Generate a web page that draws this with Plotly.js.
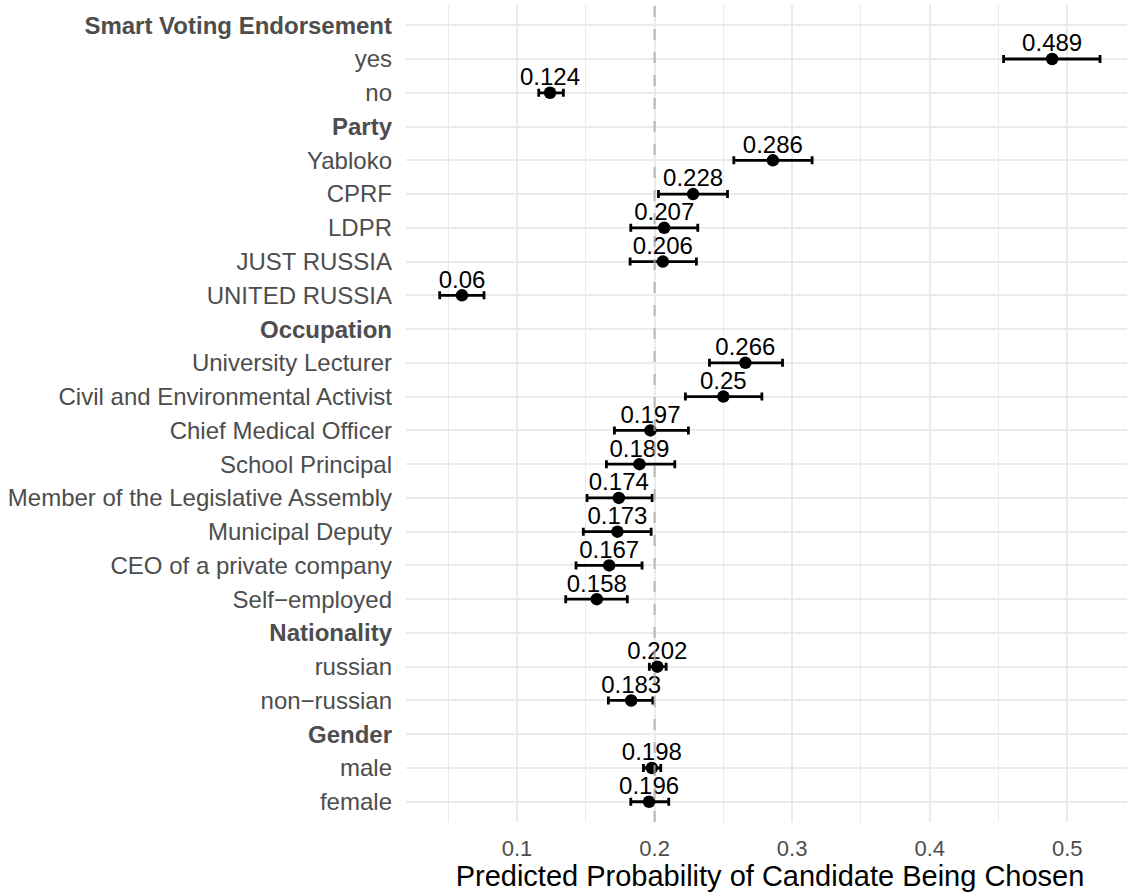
<!DOCTYPE html>
<html>
<head>
<meta charset="utf-8">
<script src="https://cdn.plot.ly/plotly-3.0.1.min.js"></script>
<style>
  html, body { margin: 0; padding: 0; background: #ffffff; overflow: hidden; }
  #chart { width: 1140px; height: 892px; }
</style>
</head>
<body>
<div id="chart"></div>
<script>
// Row order of the y axis, top to bottom (attribute headers plus their levels)
const categories = [
  "Smart Voting Endorsement", "yes", "no",
  "Party", "Yabloko", "CPRF", "LDPR", "JUST RUSSIA", "UNITED RUSSIA",
  "Occupation", "University Lecturer", "Civil and Environmental Activist",
  "Chief Medical Officer", "School Principal", "Member of the Legislative Assembly",
  "Municipal Deputy", "CEO of a private company", "Self\u2212employed",
  "Nationality", "russian", "non\u2212russian",
  "Gender", "male", "female"
];

// Attribute names shown in bold
const headerRows = ["Smart Voting Endorsement", "Party", "Occupation", "Nationality", "Gender"];

// Attribute levels that carry an estimate
const levels = [
  "yes", "no",
  "Yabloko", "CPRF", "LDPR", "JUST RUSSIA", "UNITED RUSSIA",
  "University Lecturer", "Civil and Environmental Activist", "Chief Medical Officer",
  "School Principal", "Member of the Legislative Assembly", "Municipal Deputy",
  "CEO of a private company", "Self\u2212employed",
  "russian", "non\u2212russian",
  "male", "female"
];

// Predicted probability of the candidate being chosen
const estimates = [
  0.489, 0.124,
  0.286, 0.228, 0.207, 0.206, 0.06,
  0.266, 0.25, 0.197, 0.189, 0.174, 0.173, 0.167, 0.158,
  0.202, 0.183,
  0.198, 0.196
];

// 95% interval bounds
const ciLow = [
  0.4537, 0.1158,
  0.2576, 0.2028, 0.1827, 0.1822, 0.0438,
  0.2399, 0.2224, 0.1708, 0.1650, 0.1509, 0.1482, 0.1429, 0.1354,
  0.1962, 0.1664,
  0.1919, 0.1827
];
const ciHigh = [
  0.5238, 0.1337,
  0.3145, 0.2530, 0.2314, 0.2304, 0.0760,
  0.2930, 0.2780, 0.2246, 0.2147, 0.1982, 0.1975, 0.1909, 0.1802,
  0.2084, 0.1987,
  0.2045, 0.2103
];

// Reference probability marked by the dashed line
const baseline = 0.2;

const FONT = "Liberation Sans, Arial, Helvetica, sans-serif";

const tickText = categories.map(c => headerRows.includes(c) ? "<b>" + c + "</b>" : c);

const points = {
  type: "scatter",
  mode: "markers",
  x: estimates,
  y: levels,
  marker: { color: "#000000", size: 12.5, line: { width: 0 } },
  error_x: {
    type: "data",
    symmetric: false,
    array: estimates.map((v, i) => ciHigh[i] - v),
    arrayminus: estimates.map((v, i) => v - ciLow[i]),
    color: "#000000",
    thickness: 2.8,
    width: 4
  },
  hoverinfo: "x+y",
  showlegend: false
};

// Value labels sitting above each point
const labels = {
  type: "scatter",
  mode: "markers+text",
  x: estimates,
  y: levels,
  text: estimates.map(v => String(v)),
  textposition: "top center",
  textfont: { family: FONT, size: 24, color: "#000000" },
  marker: { size: 1, opacity: 0 },
  hoverinfo: "skip",
  showlegend: false
};

const layout = {
  width: 1140,
  height: 892,
  margin: { l: 406, r: 6, t: 5, b: 70, pad: 0 },
  paper_bgcolor: "#ffffff",
  plot_bgcolor: "#ffffff",
  font: { family: FONT, color: "#4d4d4d" },
  xaxis: {
    range: [0.0193, 0.5485],
    tickvals: [0.1, 0.2, 0.3, 0.4, 0.5],
    ticktext: ["0.1", "0.2", "0.3", "0.4", "0.5"],
    tickfont: { family: FONT, size: 22, color: "#4d4d4d" },
    ticks: "",
    ticklabelstandoff: 11,
    showgrid: true,
    gridcolor: "#ebebeb",
    gridwidth: 2,
    minor: { tickvals: [0.05, 0.15, 0.25, 0.35, 0.45], showgrid: true, gridcolor: "#ebebeb", gridwidth: 1 },
    zeroline: false,
    showline: false,
    title: {
      text: "Predicted Probability of Candidate Being Chosen",
      font: { family: FONT, size: 29, color: "#000000" },
      standoff: 7
    }
  },
  yaxis: {
    type: "category",
    categoryorder: "array",
    categoryarray: categories,
    range: [categories.length - 0.4, -0.6],
    tickvals: categories,
    ticktext: tickText,
    tickfont: { family: FONT, size: 24, color: "#4d4d4d" },
    ticks: "",
    ticklabelstandoff: 13,
    showgrid: true,
    gridcolor: "#ebebeb",
    gridwidth: 2,
    zeroline: false,
    showline: false
  },
  shapes: [{
    type: "line",
    layer: "above",
    xref: "x", yref: "paper",
    x0: baseline, x1: baseline, y0: 0, y1: 1,
    line: { color: "rgba(170,170,170,0.75)", width: 2.2, dash: "11px,12px" }
  }]
};

Plotly.newPlot("chart", [points, labels], layout, { displayModeBar: false, staticPlot: true });
</script>
</body>
</html>
